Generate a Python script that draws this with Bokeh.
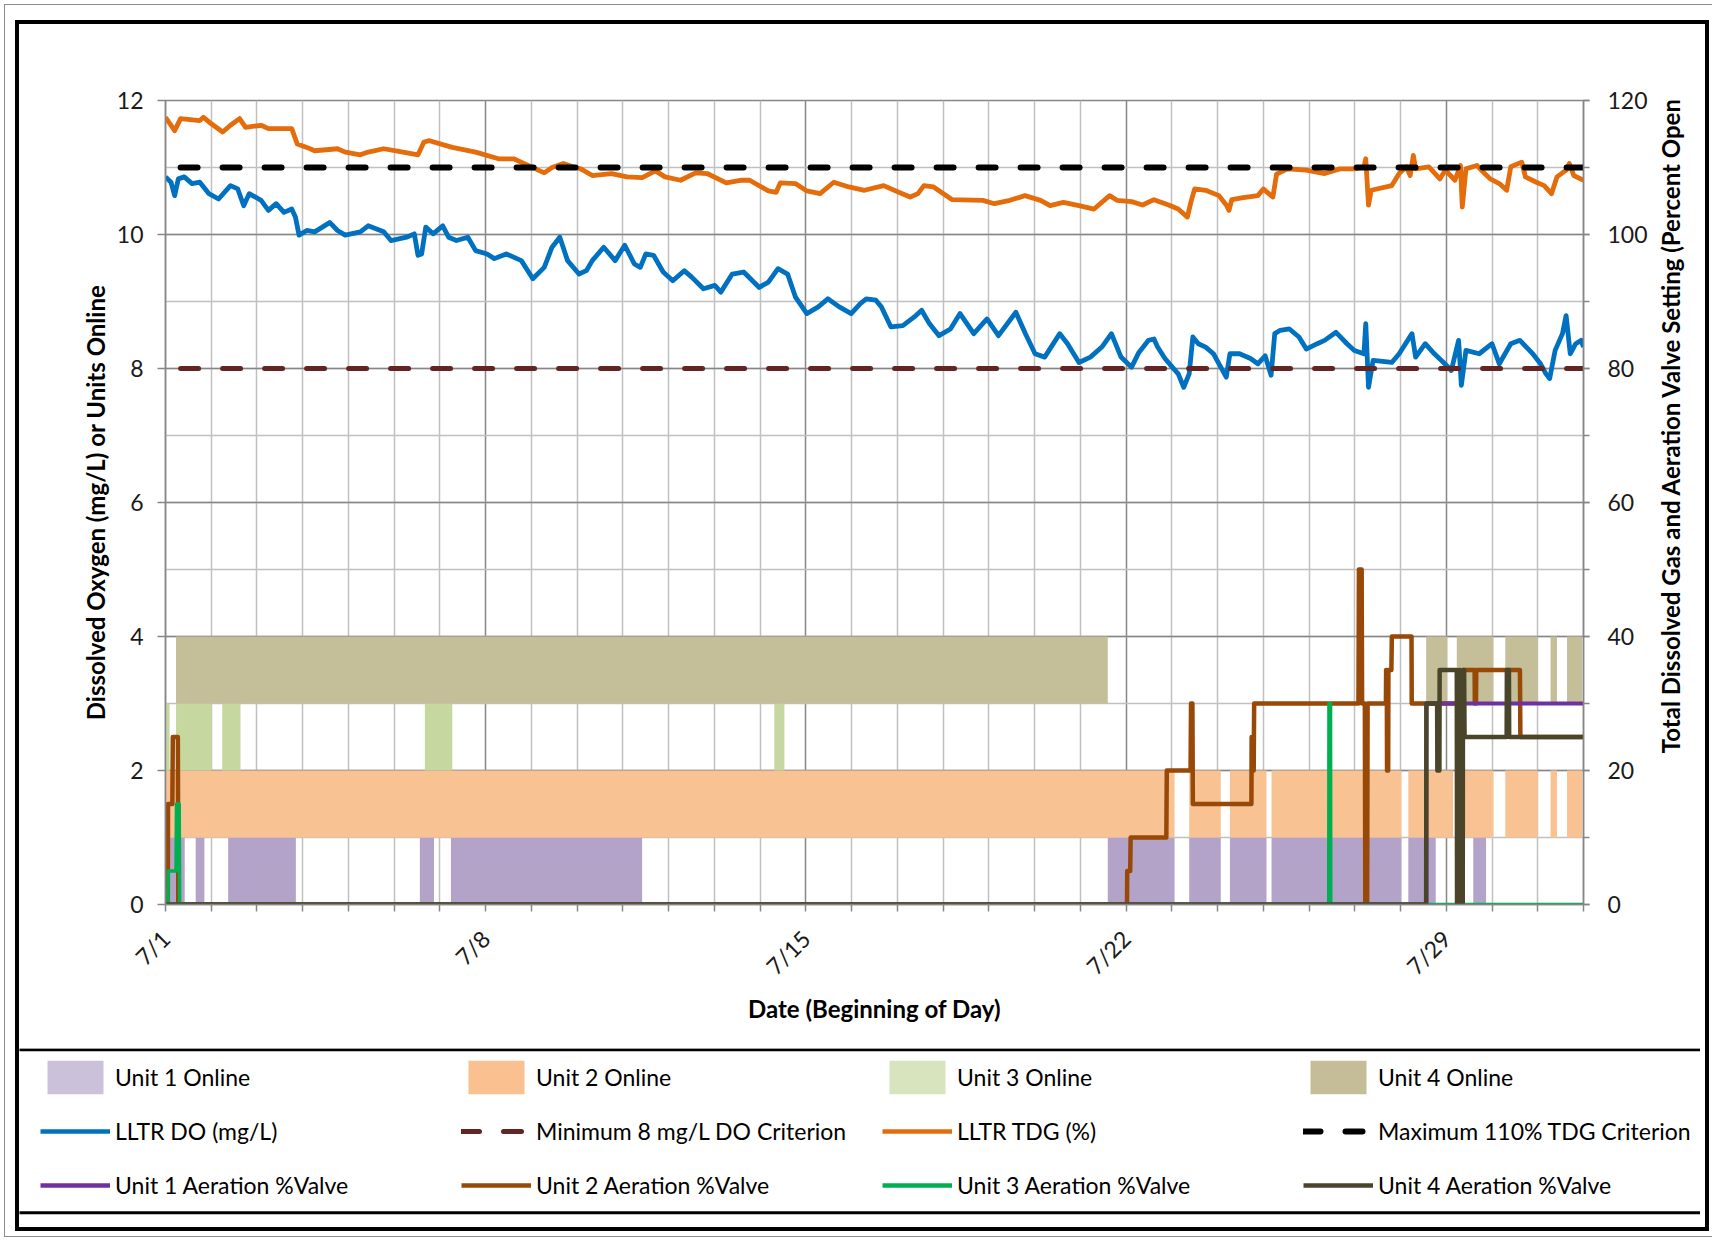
import math
from bokeh.plotting import figure
from bokeh.layouts import row, column
from bokeh.models import (Range1d, LinearAxis, SingleIntervalTicker, FixedTicker,
                          Legend, LegendItem, BoxAnnotation, Label)
from bokeh.embed import file_html
from bokeh.resources import INLINE

# ---------------- data (x = days since 7/1 00:00) ----------------
major_days = [0, 7, 14, 21, 28]
major_labels = ["7/1", "7/8", "7/15", "7/22", "7/29"]

# units online (intervals, in days)
unit1_start = [0.0, 0.66, 1.37, 5.56, 6.24, 20.6, 22.38, 23.27, 24.18, 27.17, 28.59]
unit1_end   = [0.42, 0.85, 2.85, 5.87, 10.42, 22.06, 23.07, 24.07, 27.02, 27.77, 28.87]
unit2_start = [0.0, 22.38, 23.27, 24.18, 27.17, 28.37, 29.29, 30.28, 30.64]
unit2_end   = [22.06, 23.07, 24.07, 27.02, 28.15, 29.03, 30.0, 30.42, 30.97]
unit3_start = [0.0, 0.23, 1.24, 5.67, 13.31]
unit3_end   = [0.09, 1.01, 1.64, 6.27, 13.53]
unit4_start = [0.23, 27.56, 28.23, 29.29, 30.28, 30.64]
unit4_end   = [20.6, 28.02, 29.03, 30.0, 30.42, 30.97]

# LLTR DO (mg/L)
do_day = [0.0, 0.12, 0.2, 0.28, 0.41, 0.58, 0.75, 0.95, 1.16, 1.42, 1.58, 1.71, 1.83, 2.09, 2.25,
          2.42, 2.59, 2.76, 2.84, 2.92, 3.09, 3.26, 3.43, 3.59, 3.76, 3.93, 4.26, 4.43, 4.77, 4.93,
          5.27, 5.44, 5.52, 5.6, 5.69, 5.85, 6.06, 6.19, 6.36, 6.61, 6.78, 7.03, 7.19, 7.45, 7.78,
          8.03, 8.28, 8.45, 8.62, 8.79, 9.04, 9.2,
          9.33, 9.58, 9.83, 10.04, 10.25, 10.38, 10.5, 10.67, 10.88, 11.09, 11.34, 11.51, 11.76, 12.01,
          12.14, 12.39, 12.64, 12.98, 13.18, 13.39, 13.6, 13.77, 14.02, 14.27, 14.48, 14.73, 14.99,
          15.19, 15.32, 15.53, 15.65, 15.86, 16.12, 16.37, 16.53, 16.7, 16.91, 17.16, 17.37, 17.67,
          17.96, 18.21, 18.59, 18.8, 19.01, 19.22, 19.55, 19.72, 19.97, 20.22, 20.47, 20.68, 20.89,
          21.12, 21.28, 21.49, 21.61, 21.69, 21.85, 22.01, 22.14, 22.26, 22.38, 22.46, 22.58, 22.74,
          22.91, 23.07, 23.19, 23.27, 23.48, 23.72, 23.88, 24.04, 24.17, 24.25, 24.37, 24.57, 24.78,
          24.94, 25.18, 25.34, 25.59, 25.83, 25.99, 26.2, 26.24, 26.3, 26.4, 26.81, 26.97, 27.25,
          27.33, 27.54, 27.74, 27.94, 28.11, 28.27, 28.33, 28.43, 28.72, 29.0, 29.16, 29.41, 29.61,
          29.89, 30.06, 30.18, 30.26, 30.38, 30.54, 30.62, 30.71, 30.83, 30.95, 31.0]
do_val = [10.86, 10.78, 10.58, 10.83, 10.86, 10.76, 10.78, 10.61, 10.53, 10.73, 10.68, 10.43, 10.61,
          10.51, 10.36, 10.46, 10.33, 10.38, 10.26, 9.99, 10.06, 10.04, 10.11, 10.18, 10.06, 9.99,
          10.04, 10.13, 10.04, 9.91, 9.96, 10.01, 9.69, 9.71, 10.11, 10.01, 10.13, 9.96, 9.91, 9.96,
          9.76, 9.71, 9.64, 9.71, 9.61, 9.34, 9.51, 9.81, 9.96, 9.61, 9.41, 9.46,
          9.61, 9.81, 9.61, 9.84, 9.56, 9.51, 9.71, 9.69, 9.44, 9.31, 9.46, 9.36, 9.19, 9.24, 9.14,
          9.41, 9.44, 9.21, 9.29, 9.49, 9.41, 9.07, 8.82, 8.92, 9.04, 8.92, 8.82, 8.97, 9.04, 9.02,
          8.92, 8.62, 8.64, 8.77, 8.87, 8.67, 8.49, 8.59, 8.82, 8.52, 8.74, 8.49, 8.84, 8.52, 8.22,
          8.17, 8.52, 8.37, 8.09, 8.17, 8.32, 8.52, 8.17,
          8.02, 8.24, 8.42, 8.44, 8.32, 8.15, 8.02, 7.92, 7.72, 7.92, 8.47, 8.37, 8.32, 8.22, 8.02,
          7.87, 8.22, 8.22, 8.15, 8.07, 8.19, 7.90, 8.52, 8.57, 8.59, 8.47, 8.29, 8.37, 8.42, 8.54,
          8.37, 8.27, 8.22, 8.67, 7.72, 8.12, 8.09, 8.22, 8.52, 8.17, 8.37, 8.22, 8.09, 7.97, 8.42,
          7.75, 8.27, 8.22, 8.37, 8.07, 8.37, 8.42, 8.22, 8.07, 7.92, 7.85, 8.27, 8.52, 8.79, 8.22,
          8.37, 8.42, 8.32]

# LLTR TDG (%)
tdg_day = [0.0, 0.2, 0.33, 0.75, 0.83, 0.95, 1.25, 1.42, 1.62, 1.75, 2.09, 2.25, 2.76, 2.88, 3.09,
           3.26, 3.76, 3.93, 4.26, 4.43, 4.77, 5.1, 5.52, 5.65, 5.77, 6.27, 6.78, 7.28, 7.61, 7.87,
           8.28, 8.45, 8.7, 8.95,
           9.08, 9.33, 9.75, 10.09, 10.42, 10.71, 10.92, 11.26, 11.59, 11.84, 12.26, 12.6, 12.77,
           13.18, 13.35, 13.44, 13.77, 14.02, 14.31, 14.61, 14.94, 15.28, 15.7, 16.03, 16.28, 16.45,
           16.58, 16.79, 17.2, 17.87, 18.12, 18.46, 18.79, 19.13, 19.34, 19.63, 19.97, 20.3, 20.64,
           20.8,
           21.12, 21.36, 21.61, 21.93, 22.14, 22.34, 22.42, 22.5, 22.74, 23.03, 23.19, 23.25, 23.31,
           23.56, 23.88, 24.0, 24.17, 24.21, 24.29, 24.53, 24.94, 25.34, 25.67, 25.99, 26.2, 26.24,
           26.3, 26.36, 26.81, 26.97, 27.13, 27.21, 27.28, 27.33, 27.62, 27.86, 27.98, 28.19, 28.31,
           28.35, 28.43, 28.67, 28.84, 28.96, 29.16, 29.32, 29.41, 29.65, 29.73, 29.97, 30.14, 30.3,
           30.42, 30.62, 30.69, 30.79, 31.0]
tdg_val = [117.5, 115.5, 117.3, 117.0, 117.5, 116.8, 115.3, 116.3, 117.3, 116.0, 116.3, 115.8, 115.8,
           113.5, 113.0, 112.5, 112.8, 112.3, 111.9, 112.3, 112.8, 112.4, 111.9, 113.8, 114.0, 113.0,
           112.3, 111.3, 111.3, 110.5, 109.2, 110.0, 110.6, 110.0,
           109.8, 108.8, 109.1, 108.6, 108.5, 109.5, 108.6, 108.1, 109.2, 109.1, 107.7, 108.1, 108.1,
           106.5, 106.3, 107.7, 107.6, 106.5, 106.1, 107.8, 107.1, 106.6, 107.3, 106.3, 105.6, 106.1,
           107.3, 107.1, 105.2, 105.1, 104.6, 105.1, 105.8, 105.1, 104.3, 104.8, 104.3, 103.8, 105.8,
           105.1,
           104.9, 104.4, 105.2, 104.4, 103.8, 102.6, 104.9, 106.8, 106.6, 105.8, 104.4, 103.6, 105.2,
           105.5, 105.8, 106.8, 105.8, 105.6, 109.0, 109.8, 109.6, 109.1, 109.8, 109.8, 110.1, 111.3,
           104.4, 106.6, 107.3, 109.1, 110.1, 108.8, 111.8, 109.8, 110.1, 108.3, 109.6, 108.1, 110.3,
           104.1, 109.8, 110.3, 109.1, 108.3, 107.6, 106.6, 110.1, 110.8, 108.6, 107.8, 107.3, 106.1,
           108.6, 109.6, 110.6, 108.8, 108.1]

# criteria
crit_day = [0.33, 31.0]
do_crit = [8.0, 8.0]
tdg_crit = [110.0, 110.0]

# aeration valve settings (% open)
u1_day = [0.0, 27.565, 27.566, 31.0]
u1_val = [0, 0, 30, 30]
u2_day = [0.0, 0.05, 0.055, 0.15, 0.16, 0.27, 0.28, 21.02, 21.025, 21.09, 21.1, 21.88, 21.89,
          22.41, 22.42, 22.45, 22.46, 23.74, 23.745, 23.76, 23.765, 23.79, 23.8, 26.08, 26.09,
          26.15, 26.16, 26.22, 26.23, 26.27, 26.28, 26.68, 26.685, 26.7, 26.705, 26.73, 26.735,
          26.8, 26.81, 27.24, 27.245, 28.37, 28.375, 28.62, 28.625, 28.65, 28.655, 29.61, 29.62, 31.0]
u2_val = [0, 0, 15, 15, 25, 25, 0, 0, 5, 5, 10, 10, 20,
          20, 30, 30, 15, 15, 25, 25, 20, 20, 30, 30, 50,
          50, 30, 30, 0, 0, 30, 30, 35, 35, 20, 20, 35,
          35, 40, 40, 30, 30, 35, 35, 30, 30, 35, 35, 25, 25]
u3_day = [0.0, 0.055, 0.06, 0.23, 0.24, 0.3, 0.31, 25.43, 25.435, 25.47, 25.475, 31.0]
u3_val = [0, 0, 5, 5, 15, 15, 0, 0, 30, 30, 0, 0]
u4_day = [0.0, 27.56, 27.565, 27.8, 27.805, 27.85, 27.855, 28.23, 28.235, 28.27, 28.275, 28.3,
          28.305, 28.36, 28.365, 28.39, 28.4, 29.32, 29.325, 29.37, 29.375, 31.0]
u4_val = [0, 0, 30, 30, 20, 20, 35, 35, 0, 0, 35, 35,
          0, 0, 35, 35, 25, 25, 35, 35, 25, 25]

# ---------------- styling ----------------
FONT = "Lato"
FS = "23px"
TFS = "24px"
MAJ = "#868686"
MIN = "#C0C0C0"

C_U1, C_U2, C_U3, C_U4 = "#7030A0", "#984807", "#00B050", "#4A452A"
C_DO, C_TDG, C_DOC = "#0070C0", "#E46C0A", "#632523"

# ---------- main chart ----------
p = figure(frame_width=1418, frame_height=804,
           min_border_left=146, min_border_right=62, min_border_top=76, min_border_bottom=144,
           x_range=Range1d(0, 31), y_range=Range1d(0, 12),
           output_backend="svg", toolbar_location=None, tools="")
p.background_fill_color = "white"
p.border_fill_color = "white"
p.outline_line_color = MAJ
p.outline_line_width = 1.5
p.extra_y_ranges = {"pct": Range1d(0, 120)}

def band(starts, ends, level, color):
    return p.quad(left=starts, right=ends, bottom=[level] * len(starts), top=[level + 1] * len(starts),
                  fill_color=color, line_color=None)

band(unit1_start, unit1_end, 0, "#B4A3C8")
band(unit2_start, unit2_end, 1, "#F9C293")
band(unit3_start, unit3_end, 2, "#C6D8A0")
band(unit4_start, unit4_end, 3, "#C4BE99")

p.line(u2_day, u2_val, y_range_name="pct", line_color=C_U2, line_width=4.5, line_join="round")
p.line(u1_day, u1_val, y_range_name="pct", line_color=C_U1, line_width=4)
p.line(u3_day, u3_val, y_range_name="pct", line_color=C_U3, line_width=3.5, line_join="round")
p.line(u4_day, u4_val, y_range_name="pct", line_color=C_U4, line_width=4.5, line_join="round")

p.line(do_day, do_val, line_color=C_DO, line_width=4.8, line_join="round")
p.line(tdg_day, tdg_val, y_range_name="pct", line_color=C_TDG, line_width=4.8, line_join="round")

p.line(crit_day, do_crit, line_color=C_DOC, line_width=5, line_dash="18 24", line_cap="round")
p.line(crit_day, tdg_crit, y_range_name="pct", line_color="black", line_width=6,
       line_dash="17 25", line_cap="round")

xa = p.xaxis[0]
xa.ticker = FixedTicker(ticks=major_days, minor_ticks=[d for d in range(32) if d not in major_days])
xa.major_label_overrides = {d: s for d, s in zip(major_days, major_labels)}
xa.major_label_orientation = math.pi / 4
xa.axis_label = "Date (Beginning of Day)"
xa.axis_label_standoff = 1
xa.major_label_standoff = 23
xa.major_tick_out = 7
xa.minor_tick_out = 7
xa.major_tick_in = 0
xa.minor_tick_in = 0

ya = p.yaxis[0]
ya.ticker = SingleIntervalTicker(interval=2, num_minor_ticks=2)
ya.axis_label = "Dissolved Oxygen (mg/L) or Units Online"
ya.axis_label_standoff = 4
ya.major_label_standoff = 14
ya.major_tick_out = 8
ya.major_tick_in = 0
ya.minor_tick_out = 0
ya.minor_tick_in = 0

ra = LinearAxis(y_range_name="pct", ticker=SingleIntervalTicker(interval=20, num_minor_ticks=2))
ra.major_tick_out = 6
ra.minor_tick_out = 6
ra.major_tick_in = 0
ra.minor_tick_in = 0
ra.major_label_standoff = 18
p.add_layout(ra, "right")

for ax in (xa, ya, ra):
    ax.axis_line_color = MAJ
    ax.axis_line_width = 1.5
    ax.major_tick_line_color = MAJ
    ax.minor_tick_line_color = MAJ
    ax.major_tick_line_width = 1.5
    ax.minor_tick_line_width = 1.5
    ax.major_label_text_font = FONT
    ax.major_label_text_font_size = FS
    ax.major_label_text_color = "#1a1a1a"
    ax.axis_label_text_font = FONT
    ax.axis_label_text_font_size = TFS
    ax.axis_label_text_font_style = "bold"
    ax.axis_label_text_color = "black"

p.xgrid.grid_line_color = MAJ
p.xgrid.grid_line_width = 1.5
p.xgrid.minor_grid_line_color = MIN
p.xgrid.minor_grid_line_width = 1.5
p.ygrid.grid_line_color = MAJ
p.ygrid.grid_line_width = 1.5
p.ygrid.minor_grid_line_color = MIN
p.ygrid.minor_grid_line_width = 1.5

# ---------- right-axis title (reads bottom to top) ----------
t = figure(width=55, height=1024, x_range=Range1d(0, 55), y_range=Range1d(0, 1024),
           x_axis_location=None, y_axis_location=None, min_border=0,
           output_backend="svg", toolbar_location=None, tools="")
t.outline_line_color = None
t.grid.visible = False
t.add_layout(Label(x=20, y=618, text="Total Dissolved Gas and Aeration Valve Setting  (Percent Open)",
                   angle=math.pi / 2, text_align="center", text_baseline="middle",
                   text_font=FONT, text_font_size=TFS, text_font_style="bold", text_color="black"))

# ---------- legend panel ----------
lg = figure(width=1681, height=179, x_range=Range1d(0, 1681), y_range=Range1d(0, 179),
            x_axis_location=None, y_axis_location=None, min_border=0,
            output_backend="svg", toolbar_location=None, tools="")
lg.outline_line_color = None
lg.grid.visible = False
lg.add_layout(BoxAnnotation(left=-10, right=1691, top=177.8, bottom=14.8, fill_alpha=0,
                            line_color="black", line_alpha=1.0, line_width=3))

NAN = [float("nan")]
g1 = lg.quad(left=NAN, right=NAN, bottom=NAN, top=NAN, fill_color="#CCC1DA", line_color=None)
g2 = lg.quad(left=NAN, right=NAN, bottom=NAN, top=NAN, fill_color="#FAC090", line_color=None)
g3 = lg.quad(left=NAN, right=NAN, bottom=NAN, top=NAN, fill_color="#D7E4BD", line_color=None)
g4 = lg.quad(left=NAN, right=NAN, bottom=NAN, top=NAN, fill_color="#C4BD97", line_color=None)
l_do = lg.line(NAN, NAN, line_color=C_DO, line_width=4.5)
l_dc = lg.line(NAN, NAN, line_color=C_DOC, line_width=5, line_dash="18 24", line_cap="round")
l_tdg = lg.line(NAN, NAN, line_color=C_TDG, line_width=4.5)
l_tc = lg.line(NAN, NAN, line_color="black", line_width=6, line_dash="17 25", line_cap="round")
l_u1 = lg.line(NAN, NAN, line_color=C_U1, line_width=4.5)
l_u2 = lg.line(NAN, NAN, line_color=C_U2, line_width=4.5)
l_u3 = lg.line(NAN, NAN, line_color=C_U3, line_width=4.5)
l_u4 = lg.line(NAN, NAN, line_color=C_U4, line_width=4.5)

items = [
    LegendItem(label="Unit 1 Online", renderers=[g1]),
    LegendItem(label="Unit 2 Online", renderers=[g2]),
    LegendItem(label="Unit 3 Online", renderers=[g3]),
    LegendItem(label="Unit 4 Online", renderers=[g4]),
    LegendItem(label="LLTR DO (mg/L)", renderers=[l_do]),
    LegendItem(label="Minimum 8 mg/L DO Criterion", renderers=[l_dc]),
    LegendItem(label="LLTR TDG (%)", renderers=[l_tdg]),
    LegendItem(label="Maximum 110% TDG Criterion", renderers=[l_tc]),
    LegendItem(label="Unit 1 Aeration %Valve", renderers=[l_u1]),
    LegendItem(label="Unit 2 Aeration %Valve", renderers=[l_u2]),
    LegendItem(label="Unit 3 Aeration %Valve", renderers=[l_u3]),
    LegendItem(label="Unit 4 Aeration %Valve", renderers=[l_u4]),
]
legend = Legend(items=items, location=(21, 21), orientation="horizontal", ncols=4,
                glyph_width=70, glyph_height=42, label_standoff=5, label_width=334, spacing=12,
                padding=0, margin=0, border_line_color=None, background_fill_alpha=0,
                label_text_font=FONT, label_text_font_size=FS, label_text_color="black")
lg.add_layout(legend)

inner = column(row(p, t), lg, styles={"border": "4px solid black"})
page = column(inner, styles={"border": "1px solid #8C8C8C", "margin": "4px 0 0 4px",
                             "padding": "15px 3px 5px 10px"})

open("out.html", "w").write(file_html(page, INLINE))
